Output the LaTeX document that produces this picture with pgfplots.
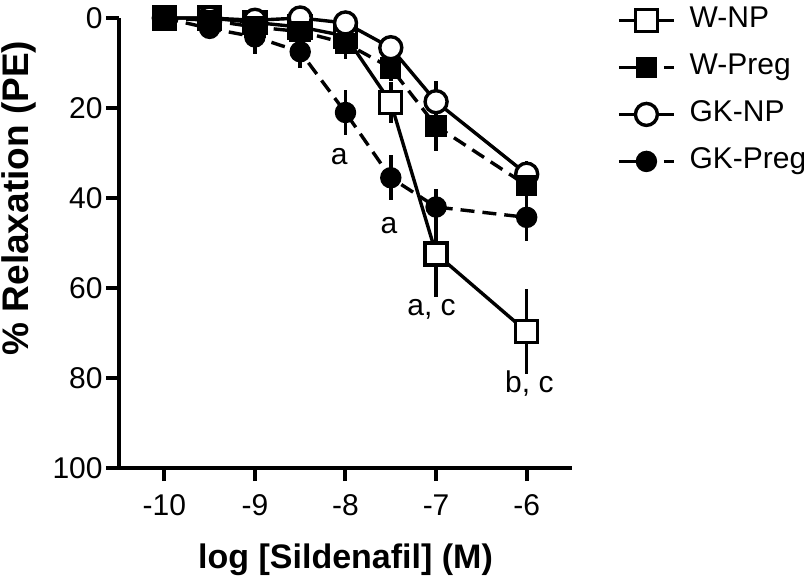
\documentclass[border=0pt]{standalone}
\usepackage{fontspec}
\setmainfont{Liberation Sans}
\usepackage{pgfplots}
\pgfplotsset{compat=1.18}
\usepackage{pgfplotstable}

% x = log[Sildenafil], y = % relaxation, e = error
\pgfplotstableread{
x y e
-10 0 0
-9.5 0 0
-9 1 1
-8.5 2 1.5
-8 4 2
-7.5 18.8 4.5
-7 52.4 9.5
-6 69.7 9.5
}\wnp
\pgfplotstableread{
x y e
-10 0 0
-9.5 0.5 0.5
-9 2 2
-8.5 3 2
-8 5.6 3.5
-7.5 11.1 3
-7 24 5.5
-6 37.2 4
}\wpreg
\pgfplotstableread{
x y e
-10 0 0
-9.5 0 0
-9 0.5 1
-8.5 0 1
-8 1.1 1.5
-7.5 6.6 2.5
-7 18.6 4.6
-6 34.7 3
}\gknp
\pgfplotstableread{
x y e
-10 0 0
-9.5 2.3 1
-9 4.2 3.8
-8.5 7.5 3.7
-8 21 5
-7.5 35.5 5
-7 42 4
-6 44.3 5.3
}\gkpreg

\pgfplotsset{
  errs/.style={error bars/.cd, y dir=both, y explicit, error mark=none,
    error bar style={solid, line width=1.8pt}},
  limg/.style={legend image code/.code={%
    \draw[##1, mark repeat=2, mark phase=2] plot coordinates {(0pt,0pt) (13.75pt,0pt) (27.5pt,0pt)};}},
  limgd/.style={legend image code/.code={%
    \draw[##1, dash pattern=on 19pt off 3.5pt on 5pt off 10pt, mark repeat=2, mark phase=2]
      plot coordinates {(0pt,0pt) (13.75pt,0pt) (27.5pt,0pt)};}},
  swnp/.style={black, line width=1.7pt, solid, mark=square*, mark size=5.5pt,
    mark options={solid, fill=white, line width=1.7pt}, limg},
  swpreg/.style={black, line width=1.7pt, dash pattern=on 7pt off 4pt, mark=square*, mark size=4.5pt,
    mark options={solid, fill=black}, limgd},
  sgknp/.style={black, line width=1.7pt, solid, mark=*, mark size=5.5pt,
    mark options={solid, fill=white, line width=1.7pt}, limg},
  sgkpreg/.style={black, line width=1.7pt, dash pattern=on 7pt off 4pt, mark=*, mark size=4.5pt,
    mark options={solid, fill=black}, limgd},
}

\begin{document}
\begin{tikzpicture}
\path[use as bounding box] (-59.5pt,-56pt) rectangle (342.5pt,234pt);
\begin{axis}[
  at={(0,0)}, anchor=south west,
  scale only axis, width=226.5pt, height=225pt,
  xmin=-10.5, xmax=-5.5, ymin=0, ymax=100, y dir=reverse,
  clip=false,
  axis x line*=bottom, axis y line*=left,
  axis line style={line width=2pt, -},
  xtick={-10,-9,-8,-7,-6}, xticklabels={-10,-9,-8,-7,-6},
  ytick={0,20,40,60,80,100}, yticklabels={0,20,40,60,80,100},
  tick align=outside, major tick length=6.5pt,
  tick style={line width=2pt, black},
  ticklabel style={font=\fontsize{15}{18}\selectfont, inner sep=1.5pt},
  xticklabel style={yshift=-5pt},
  xlabel={log [Sildenafil] (M)},
  ylabel={\% Relaxation (PE)},
  xlabel style={font=\fontsize{17}{20}\selectfont\bfseries,
    at={(axis description cs:0.5,0)}, anchor=base, yshift=-50pt},
  ylabel style={font=\fontsize{18.5}{22}\selectfont\bfseries,
    at={(axis description cs:-0.221,0.6)}, anchor=center},
  legend style={at={(axis description cs:1.099,1)}, anchor=north west, yshift=6.5pt,
    draw=none, fill=none, font=\fontsize{15}{18}\selectfont,
    row sep=8.5pt, column sep=7pt, inner sep=0pt,
    nodes={inner sep=0pt, text height=11pt, text depth=4pt}},
  legend cell align=left,
]
\addlegendimage{swnp}\addlegendentry{W-NP}
\addlegendimage{swpreg}\addlegendentry{W-Preg}
\addlegendimage{sgknp}\addlegendentry{GK-NP}
\addlegendimage{sgkpreg}\addlegendentry{GK-Preg}

\addplot[swnp, forget plot, errs] table[x=x, y=y, y error=e] {\wnp};
\addplot[sgknp, forget plot, errs] table[x=x, y=y, y error=e] {\gknp};
\addplot[swpreg, forget plot, errs] table[x=x, y=y, y error=e] {\wpreg};
\addplot[sgkpreg, forget plot, errs] table[x=x, y=y, y error=e] {\gkpreg};

\node[font=\fontsize{15}{18}\selectfont] at (axis cs:-8.07,30.9) {a};
\node[font=\fontsize{15}{18}\selectfont] at (axis cs:-7.52,46.2) {a};
\node[font=\fontsize{15}{18}\selectfont] at (axis cs:-7.05,64.7) {a, c};
\node[font=\fontsize{15}{18}\selectfont] at (axis cs:-5.97,81.3) {b, c};
\end{axis}
\end{tikzpicture}
\end{document}
